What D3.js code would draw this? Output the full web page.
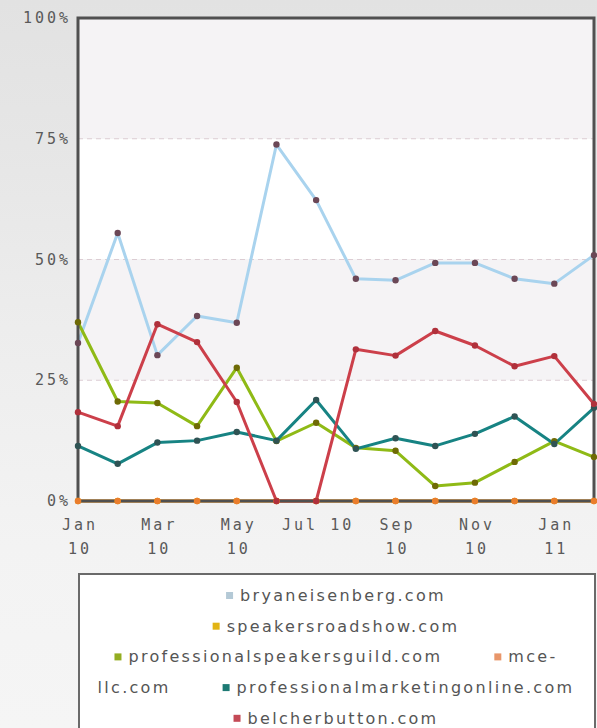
<!DOCTYPE html>
<html>
<head>
<meta charset="utf-8">
<script src="https://cdn.jsdelivr.net/npm/d3@7"></script>
<style>
  html, body { margin: 0; padding: 0; }
  body { width: 597px; height: 728px; overflow: hidden;
         background: linear-gradient(#e2e2e2 0%, #e6e6e6 20%, #ededed 45%, #f3f3f3 75%, #f5f5f5 100%); }
  .tick-label { font-family: "DejaVu Sans Mono", monospace; font-size: 15px; fill: #5a5a5a; letter-spacing: 3px; }
  .legend-label { font-family: "DejaVu Sans", sans-serif; font-size: 16px; fill: #555; letter-spacing: 2.3px; }
</style>
</head>
<body>
<div id="vis"></div>
<script>
var months = ['Jan 10', 'Feb 10', 'Mar 10', 'Apr 10', 'May 10', 'Jun 10', 'Jul 10',
              'Aug 10', 'Sep 10', 'Oct 10', 'Nov 10', 'Dec 10', 'Jan 11', 'Feb 11'];

var yTicks = [0, 25, 50, 75, 100];

// which months get a label, and how it is split over lines
var xTickMonths = ['Jan 10', 'Mar 10', 'May 10', 'Jul 10', 'Sep 10', 'Nov 10', 'Jan 11'];
var xTickLines = [['Jan', '10'], ['Mar', '10'], ['May', '10'], ['Jul 10'], ['Sep', '10'], ['Nov', '10'], ['Jan', '11']];

var seriesNames = ['bryaneisenberg.com', 'speakersroadshow.com', 'professionalspeakersguild.com',
                   'mce-llc.com', 'professionalmarketingonline.com', 'belcherbutton.com'];

var bryaneisenberg = [32.7, 55.5, 30.2, 38.3, 36.9, 73.8, 62.3, 46, 45.7, 49.3, 49.3, 46, 45, 50.9];
var speakersroadshow = [0, 0, 0, 0, 0, 0, 0, 0, 0, 0, 0, 0, 0, 0];
var professionalspeakersguild = [37, 20.6, 20.3, 15.5, 27.6, 12.4, 16.2, 11, 10.4, 3.1, 3.8, 8.1, 12.4, 9.1];
var mcellc = [0, 0, 0, 0, 0, 0, 0, 0, 0, 0, 0, 0, 0, 0];
var professionalmarketingonline = [11.4, 7.7, 12.1, 12.5, 14.3, 12.5, 20.9, 10.8, 13, 11.4, 13.9, 17.5, 11.8, 19.3];
var belcherbutton = [18.4, 15.5, 36.6, 32.9, 20.5, 0, 0, 31.4, 30.1, 35.2, 32.2, 27.9, 30, 20.1];

var seriesValues = [bryaneisenberg, speakersroadshow, professionalspeakersguild,
                    mcellc, professionalmarketingonline, belcherbutton];

var lineColors = ['#a9d3ee', '#e6b000', '#8fba16', '#f09048', '#178383', '#cc3f4a'];
var markerColors = ['#6b4756', '#d99a00', '#6e6a05', '#ea7d2c', '#2f5354', '#b0303b'];
var swatchColors = ['#b4c9d6', '#e2b414', '#93ad21', '#e8966a', '#1d7a74', '#c44a56'];

// legend wraps like the original
var legendRows = [
    [{i: 0, text: 'bryaneisenberg.com'}],
    [{i: 1, text: 'speakersroadshow.com'}],
    [{i: 2, text: 'professionalspeakersguild.com'}, {i: 3, text: 'mce-'}],
    [{i: -1, text: 'llc.com'}, {i: 4, text: 'professionalmarketingonline.com'}],
    [{i: 5, text: 'belcherbutton.com'}]
];

var width = 597;
var height = 728;
var plot = {left: 78, right: 594, top: 18, bottom: 501};

var svg = d3.select('#vis').append('svg')
    .attr('width', width)
    .attr('height', height);

var x = d3.scalePoint().domain(months).range([plot.left, plot.right]);
var y = d3.scaleLinear().domain([0, 100]).range([plot.bottom, plot.top]);

// alternating bands
var bands = [[75, 100, '#f5f3f5'], [50, 75, '#ffffff'], [25, 50, '#f5f3f5'], [0, 25, '#ffffff']];
svg.selectAll('.band').data(bands).enter().append('rect')
    .attr('x', plot.left)
    .attr('width', plot.right - plot.left)
    .attr('y', function (d) { return y(d[1]); })
    .attr('height', function (d) { return y(d[0]) - y(d[1]); })
    .attr('fill', function (d) { return d[2]; });

// dashed grid lines
svg.selectAll('.grid').data([25, 50, 75]).enter().append('line')
    .attr('x1', plot.left).attr('x2', plot.right)
    .attr('y1', function (d) { return y(d); })
    .attr('y2', function (d) { return y(d); })
    .attr('stroke', '#dccdd3')
    .attr('stroke-width', 1)
    .attr('stroke-dasharray', '5,4');

// y tick labels
svg.selectAll('.ylab').data(yTicks).enter().append('text')
    .attr('class', 'tick-label')
    .attr('x', plot.left - 7)
    .attr('y', function (d) { return y(d) + 5; })
    .attr('text-anchor', 'end')
    .text(function (d) { return d + '%'; });

// x tick labels
var xl = svg.selectAll('.xlab').data(xTickMonths).enter().append('text')
    .attr('class', 'tick-label')
    .attr('text-anchor', 'middle');
xl.selectAll('tspan').data(function (d, i) {
        return xTickLines[i].map(function (t) { return {m: d, t: t}; });
    }).enter().append('tspan')
    .attr('x', function (d) { return x(d.m) + 2; })
    .attr('y', function (d, i) { return plot.bottom + 29 + i * 24; })
    .text(function (d) { return d.t; });

var line = d3.line()
    .x(function (d, i) { return x(months[i]); })
    .y(function (d) { return y(d); });

svg.selectAll('.series').data(seriesValues).enter().append('path')
    .attr('d', line)
    .attr('fill', 'none')
    .attr('stroke', function (d, i) { return lineColors[i]; })
    .attr('stroke-width', 3)
    .attr('stroke-linejoin', 'round');

// frame
svg.append('path')
    .attr('d', 'M' + plot.left + ',' + plot.bottom + 'V' + plot.top + 'H' + plot.right + 'V' + plot.bottom + 'Z')
    .attr('fill', 'none')
    .attr('stroke', '#505050')
    .attr('stroke-width', 3);

// markers
seriesValues.forEach(function (vals, s) {
    svg.selectAll('.m' + s).data(vals).enter().append('circle')
        .attr('cx', function (d, i) { return x(months[i]); })
        .attr('cy', function (d) { return y(d); })
        .attr('r', 3.2)
        .attr('fill', markerColors[s]);
});

// legend
var legendBox = {left: 79, right: 595, top: 574};
svg.append('rect')
    .attr('x', legendBox.left)
    .attr('y', legendBox.top)
    .attr('width', legendBox.right - legendBox.left)
    .attr('height', height - legendBox.top + 10)
    .attr('fill', '#ffffff')
    .attr('stroke', '#6a6a6a')
    .attr('stroke-width', 2);

var centerX = (legendBox.left + legendBox.right) / 2 - 1;
var gap = 52;
legendRows.forEach(function (row, r) {
    var g = svg.append('g');
    var baseY = legendBox.top + 27 + r * 30.7;
    var cursor = 0;
    row.forEach(function (item, k) {
        if (k > 0) cursor += gap;
        if (item.i >= 0) {
            g.append('rect')
                .attr('x', cursor)
                .attr('y', baseY - 9)
                .attr('width', 7)
                .attr('height', 7)
                .attr('fill', swatchColors[item.i]);
            cursor += 14;
        }
        var t = g.append('text')
            .attr('class', 'legend-label')
            .attr('x', cursor)
            .attr('y', baseY)
            .text(item.text);
        cursor += t.node().getComputedTextLength();
    });
    g.attr('transform', 'translate(' + (centerX - cursor / 2) + ',0)');
});
</script>
</body>
</html>
